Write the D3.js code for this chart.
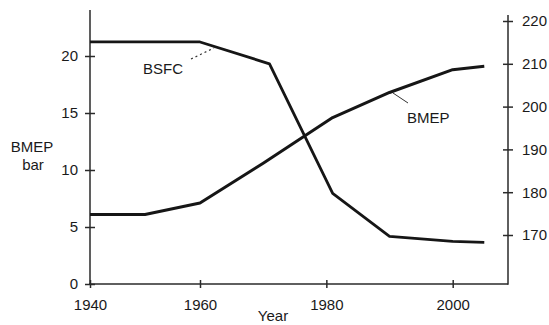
<!DOCTYPE html>
<html>
<head>
<meta charset="utf-8">
<script src="https://cdn.jsdelivr.net/npm/d3@7"></script>
<style>
  body { margin: 0; background: #fff; }
  svg text { font-family: "Liberation Sans", Arial, sans-serif; fill: #1a1a1a; }
</style>
</head>
<body>
<div id="chart"></div>
<script>
// BMEP (bar, left axis)
const bmepYears = [1940, 1950, 1960, 1970, 1981, 1990, 2000, 2005]
const bmepValues = [6.1, 6.1, 7.1, 10.6, 14.6, 16.8, 18.8, 19.1]

// BSFC (right axis)
const bsfcYears = [1940, 1960, 1971, 1981, 1990, 2000, 2005]
const bsfcValues = [215.1, 215.1, 210.0, 179.7, 169.7, 168.5, 168.3]

const yearTicks = [1940, 1960, 1980, 2000]
const leftTicks = [0, 5, 10, 15, 20]
const rightTicks = [170, 180, 190, 200, 210, 220]

const svgWidth = 549
const svgHeight = 325

const svg = d3.select("#chart")
    .append("svg")
    .attr("width", svgWidth)
    .attr("height", svgHeight)

// the scanned original is slightly stretched between 1940 and 1960
const x = d3.scaleLinear().domain([1940, 1960, 2000]).range([90, 200, 452.7])
const yLeft = d3.scaleLinear().domain([0, 20]).range([284, 56])
const yRight = d3.scaleLinear().domain([170, 220]).range([235, 21])

const axisColor = "#2a2a2a"

// axis lines
svg.append("line").attr("x1", 90).attr("x2", 90).attr("y1", 10).attr("y2", 284)
    .attr("stroke", axisColor).attr("stroke-width", 1.5)
svg.append("line").attr("x1", 89).attr("x2", 508).attr("y1", 284).attr("y2", 284)
    .attr("stroke", axisColor).attr("stroke-width", 1.5)
svg.append("line").attr("x1", 508).attr("x2", 508).attr("y1", 15).attr("y2", 284.7)
    .attr("stroke", axisColor).attr("stroke-width", 1.5)

function styleAxis(g) {
  g.select(".domain").remove()
  g.selectAll("line").attr("stroke", axisColor).attr("stroke-width", 1.5)
  g.selectAll("text").attr("font-size", 15).attr("fill", "#1a1a1a")
    .attr("font-family", "'Liberation Sans', Arial, sans-serif")
}

// left axis
const gLeft = svg.append("g").attr("transform", "translate(90,0)")
    .call(d3.axisLeft(yLeft).tickValues(leftTicks).tickSize(5).tickPadding(7))
    .call(styleAxis)
gLeft.selectAll(".tick line").attr("x1", -5).attr("x2", 5)

// right axis
const gRight = svg.append("g").attr("transform", "translate(508,0)")
    .call(d3.axisRight(yRight).tickValues(rightTicks).tickSize(5).tickPadding(9))
    .call(styleAxis)
gRight.selectAll(".tick line").attr("x1", -5).attr("x2", 5)

// bottom axis
const gBottom = svg.append("g").attr("transform", "translate(0,284)")
    .call(d3.axisBottom(x).tickValues(yearTicks).tickFormat(d3.format("d")).tickSize(4).tickPadding(11))
    .call(styleAxis)
gBottom.selectAll(".tick line").attr("y1", -4).attr("y2", 4)

// series
const lineLeft = d3.line().x((d, i) => x(bmepYears[i])).y(d => yLeft(d))
const lineRight = d3.line().x((d, i) => x(bsfcYears[i])).y(d => yRight(d))

svg.append("path").datum(bsfcValues)
    .attr("d", lineRight)
    .attr("fill", "none").attr("stroke", "#161616").attr("stroke-width", 2.8)
    .attr("stroke-linejoin", "round")

svg.append("path").datum(bmepValues)
    .attr("d", lineLeft)
    .attr("fill", "none").attr("stroke", "#161616").attr("stroke-width", 3)
    .attr("stroke-linejoin", "round")

// labels
svg.append("text").attr("x", 143).attr("y", 74).attr("font-size", 15).text("BSFC")
svg.append("line").attr("x1", 191).attr("y1", 59).attr("x2", 214).attr("y2", 48)
    .attr("stroke", "#333").attr("stroke-width", 1.2).attr("stroke-dasharray", "2,3")

svg.append("text").attr("x", 407).attr("y", 123).attr("font-size", 15).text("BMEP")
svg.append("line").attr("x1", 393).attr("y1", 93).attr("x2", 408).attr("y2", 103)
    .attr("stroke", "#333").attr("stroke-width", 1)

svg.append("text").attr("x", 32).attr("y", 152).attr("font-size", 15)
    .attr("text-anchor", "middle").text("BMEP")
svg.append("text").attr("x", 33).attr("y", 170).attr("font-size", 15)
    .attr("text-anchor", "middle").text("bar")

svg.append("text").attr("x", 273).attr("y", 321).attr("font-size", 15)
    .attr("text-anchor", "middle").text("Year")
</script>
</body>
</html>
